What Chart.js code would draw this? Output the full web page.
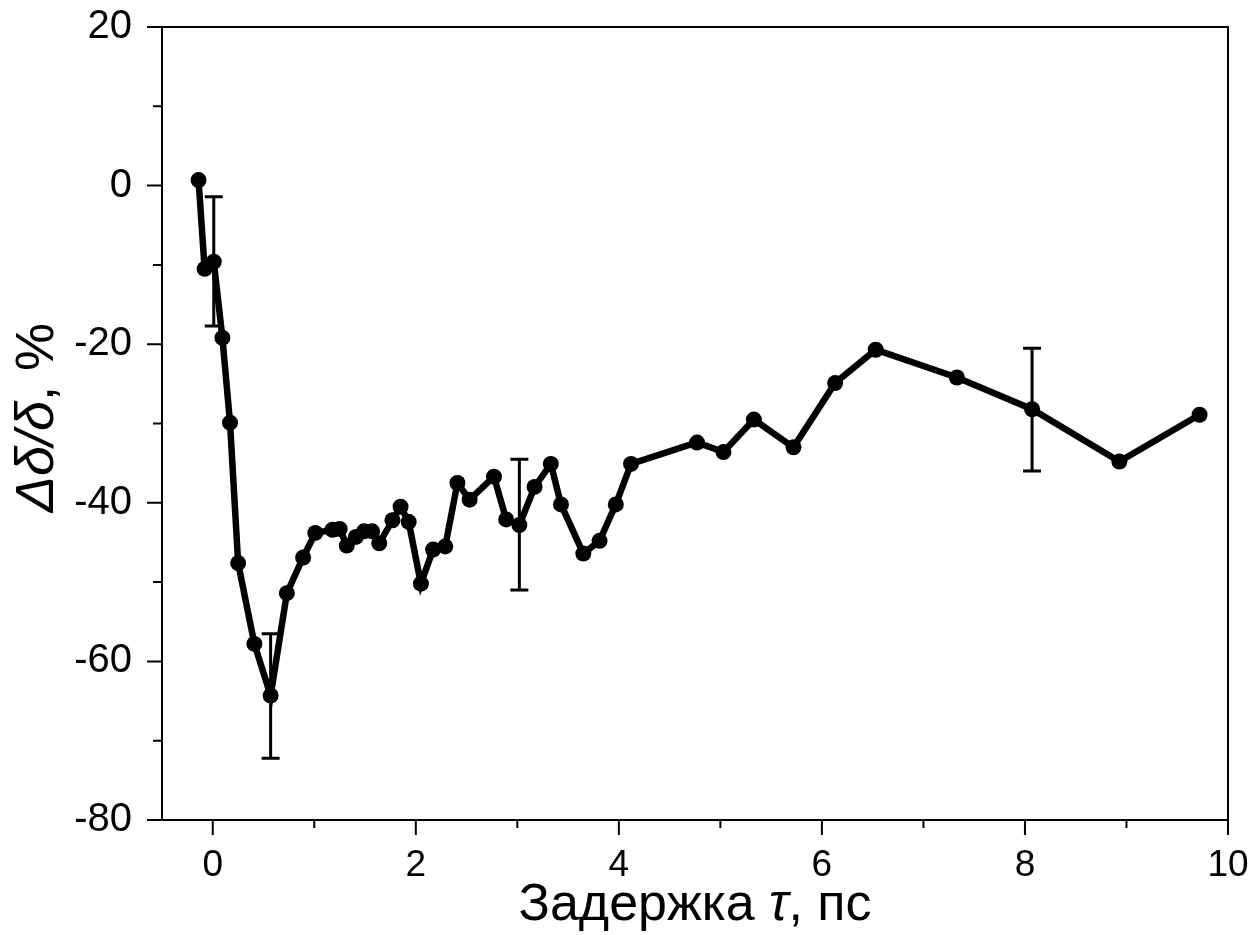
<!DOCTYPE html>
<html>
<head>
<meta charset="utf-8">
<script src="https://cdn.jsdelivr.net/npm/chart.js@4"></script>
<style>
html,body{margin:0;padding:0;background:#fff;}
#wrap{width:1252px;height:935px;}
</style>
</head>
<body>
<div id="wrap"><canvas id="c" width="1252" height="935"></canvas></div>
<script>
// Delay (ps)
const delays = [-0.14,-0.08,0.01,0.095,0.17,0.25,0.41,0.57,0.73,0.89,1.01,1.18,1.25,1.32,1.41,1.49,1.57,1.64,1.77,1.85,1.93,2.05,2.17,2.29,2.41,2.53,2.77,2.89,3.02,3.17,3.33,3.43,3.65,3.81,3.97,4.12,4.77,5.03,5.33,5.72,6.13,6.53,7.33,8.07,8.93,9.72];
// Δδ/δ (%)
const values = [0.7,-10.5,-9.6,-19.2,-29.9,-47.6,-57.8,-64.3,-51.4,-46.9,-43.8,-43.4,-43.3,-45.4,-44.3,-43.6,-43.6,-45.1,-42.2,-40.5,-42.4,-50.2,-45.9,-45.5,-37.5,-39.6,-36.7,-42.1,-42.8,-38.0,-35.1,-40.2,-46.4,-44.8,-40.2,-35.1,-32.4,-33.6,-29.5,-33.0,-24.9,-20.7,-24.2,-28.2,-34.8,-28.9];
// Error bars
const errX = [0.01, 0.57, 3.02, 8.07];
const errLow = [-17.7, -72.2, -51.0, -36.0];
const errHigh = [-1.4, -56.5, -34.5, -20.5];
// Ticks
const xMajorTicks = [0,2,4,6,8,10];
const xMinorTicks = [1,3,5,7,9];
const yMajorTicks = [-80,-60,-40,-20,0,20];
const yMinorTicks = [-70,-50,-30,-10,10];
// Axis titles: [text, italic?] segments
const xTitleParts = [['Задержка ', false], ['τ', true], [', пс', false]];
const yTitleParts = [['Δδ/δ', true], [', %', false]];

const FONT = '"Liberation Sans", Arial, sans-serif';
const TITLE_SIZE = 52;

function drawParts(ctx, parts, cx, baseline, size) {
  const fonts = parts.map(p => (p[1] ? 'italic ' : '') + size + 'px ' + FONT);
  let total = 0;
  const widths = parts.map((p, i) => { ctx.font = fonts[i]; const w = ctx.measureText(p[0]).width; total += w; return w; });
  let x = cx - total / 2;
  ctx.textBaseline = 'alphabetic';
  ctx.textAlign = 'left';
  parts.forEach((p, i) => { ctx.font = fonts[i]; ctx.fillText(p[0], x, baseline); x += widths[i]; });
}

const framePlugin = {
  id: 'frame',
  afterDatasetsDraw(chart) {
    const ctx = chart.ctx, a = chart.chartArea;
    const xs = chart.scales.x, ys = chart.scales.y;
    ctx.save();
    ctx.strokeStyle = '#000';
    ctx.fillStyle = '#000';
    ctx.lineCap = 'butt';
    // error bars
    ctx.lineWidth = 3;
    for (let i = 0; i < errX.length; i++) {
      const px = xs.getPixelForValue(errX[i]);
      const y1 = ys.getPixelForValue(errLow[i]);
      const y2 = ys.getPixelForValue(errHigh[i]);
      ctx.beginPath();
      ctx.moveTo(px, y1); ctx.lineTo(px, y2);
      ctx.moveTo(px - 9, y1); ctx.lineTo(px + 9, y1);
      ctx.moveTo(px - 9, y2); ctx.lineTo(px + 9, y2);
      ctx.stroke();
    }
    // frame
    ctx.lineWidth = 2;
    ctx.strokeRect(a.left, a.top, a.right - a.left, a.bottom - a.top);
    // ticks
    ctx.beginPath();
    xMajorTicks.forEach(v => { const p = xs.getPixelForValue(v); ctx.moveTo(p, a.bottom); ctx.lineTo(p, a.bottom + 15); });
    xMinorTicks.forEach(v => { const p = xs.getPixelForValue(v); ctx.moveTo(p, a.bottom); ctx.lineTo(p, a.bottom + 8); });
    yMajorTicks.forEach(v => { const p = ys.getPixelForValue(v); ctx.moveTo(a.left, p); ctx.lineTo(a.left - 15, p); });
    yMinorTicks.forEach(v => { const p = ys.getPixelForValue(v); ctx.moveTo(a.left, p); ctx.lineTo(a.left - 9, p); });
    ctx.stroke();
    // axis titles
    drawParts(ctx, xTitleParts, (a.left + a.right) / 2, 920, TITLE_SIZE);
    ctx.save();
    ctx.translate(53, (a.top + a.bottom) / 2 - 6);
    ctx.rotate(-Math.PI / 2);
    drawParts(ctx, yTitleParts, 0, 0, 54);
    ctx.restore();
    ctx.restore();
  }
};

new Chart(document.getElementById('c'), {
  type: 'line',
  data: {
    datasets: [{
      data: delays.map((d, i) => ({x: d, y: values[i]})),
      borderColor: '#000',
      backgroundColor: '#000',
      borderWidth: 6.5,
      pointRadius: 8,
      pointBorderWidth: 0,
      pointBackgroundColor: '#000',
      tension: 0,
      fill: false
    }]
  },
  options: {
    responsive: false,
    animation: false,
    events: [],
    layout: { padding: { left: 0, right: 24, top: 27, bottom: 0 } },
    plugins: { legend: { display: false }, tooltip: { enabled: false } },
    scales: {
      x: {
        type: 'linear',
        min: -0.5, max: 10,
        afterFit(s) { s.height = 115; s.paddingLeft = 0; s.paddingRight = 0; s.paddingTop = 0; s.paddingBottom = 0; },
        afterBuildTicks(s) { s.ticks = xMajorTicks.map(v => ({value: v})); },
        grid: { display: false, drawTicks: false, tickLength: 0 },
        border: { display: false },
        ticks: { color: '#000', padding: 24, maxRotation: 0, font: { family: FONT, size: 37 }, callback: v => String(v) },
        title: { display: false }
      },
      y: {
        type: 'linear',
        min: -80, max: 20,
        afterFit(s) { s.width = 162; s.paddingLeft = 0; s.paddingRight = 0; s.paddingTop = 0; s.paddingBottom = 0; },
        afterBuildTicks(s) { s.ticks = yMajorTicks.map(v => ({value: v})); },
        grid: { display: false, drawTicks: false, tickLength: 0 },
        border: { display: false },
        ticks: { color: '#000', padding: 30, font: { family: FONT, size: 40 }, callback: v => String(v) },
        title: { display: false }
      }
    }
  },
  plugins: [framePlugin]
});
</script>
</body>
</html>
